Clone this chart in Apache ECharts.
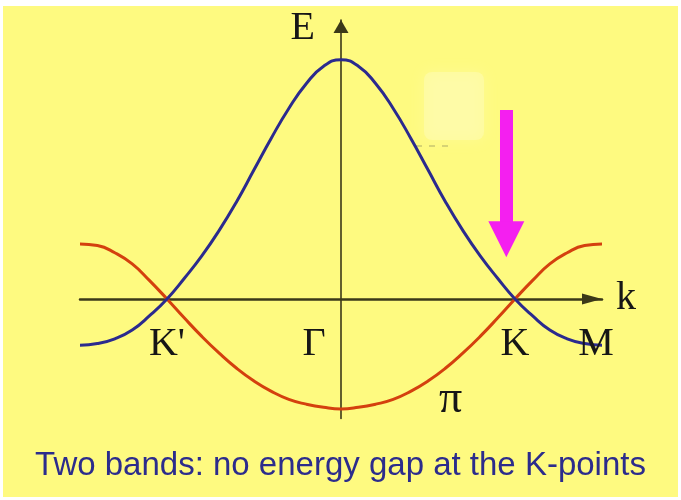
<!DOCTYPE html>
<html>
<head>
<meta charset="utf-8">
<script src="https://cdn.jsdelivr.net/npm/echarts@6/dist/echarts.min.js"></script>
<style>
  html, body { margin: 0; padding: 0; background: #ffffff; }
  #chart { width: 681px; height: 500px; }
</style>
</head>
<body>
<div id="chart"></div>
<script>
// Wave vector along M'–K'–Γ–K–M, in units of |ΓK|
const kPoints = [
  -1.5, -1.4, -1.3, -1.2, -1.1, -1.0, -0.9, -0.8, -0.7, -0.6, -0.5, -0.4, -0.3, -0.2, -0.1,
   0.0,
   0.1,  0.2,  0.3,  0.4,  0.5,  0.6,  0.7,  0.8,  0.9,  1.0,  1.1,  1.2,  1.3,  1.4,  1.5
];
// Upper (antibonding) band energy
const upperBand = [
  -0.58, -0.56, -0.50, -0.39, -0.21, 0.00, 0.26, 0.54, 0.86, 1.22, 1.62, 2.02, 2.39, 2.70, 2.92,
   3.00,
   2.92, 2.70, 2.39, 2.02, 1.62, 1.22, 0.86, 0.54, 0.26, 0.00, -0.21, -0.39, -0.50, -0.56, -0.58
];
// Lower (bonding π) band energy
const lowerBand = [
   0.69, 0.67, 0.58, 0.44, 0.23, 0.00, -0.24, -0.47, -0.68, -0.87, -1.03, -1.16, -1.26, -1.32, -1.36,
  -1.38,
  -1.36, -1.32, -1.26, -1.16, -1.03, -0.87, -0.68, -0.47, -0.24, 0.00, 0.23, 0.44, 0.58, 0.67, 0.69
];
// High-symmetry points marked under the k axis
const symmetryValues = [-1.0, 0.0, 1.0, 1.5];
const symmetryNames = ["K'", 'Γ', 'K', 'M'];
// Pointer to the Dirac point at K (k, E from top to bottom)
const pointerK = 0.95;
const pointerTop = 2.37;
const pointerEnd = 0.75;
// Position of the π band tag
const piTag = [0.63, -1.27];

const toPairs = (xs, ys) => xs.map((x, i) => [x, ys[i]]);

const serif = "'Liberation Serif', 'DejaVu Serif', serif";
const axisColor = '#3b3818';
const letterColor = '#161616';

// horizontal nudges for the point names that sit beside their tick
const nameNudge = { 'Γ': -27, 'M': -6 };

const chart = echarts.init(document.getElementById('chart'), null, { renderer: 'canvas' });

chart.setOption({
  animation: false,
  backgroundColor: '#ffffff',
  graphic: [
    {
      type: 'rect', z: -10, silent: true,
      shape: { x: 3, y: 6, width: 675, height: 491 },
      style: { fill: '#fefa80' }
    },
    {
      type: 'rect', z: -9, silent: true,
      shape: { x: 424, y: 72, width: 60, height: 68, r: 8 },
      style: { fill: 'rgba(255,253,205,0.35)', shadowBlur: 14, shadowColor: 'rgba(255,253,205,0.7)' }
    },
    {
      type: 'line', z: -8, silent: true,
      shape: { x1: 416, y1: 146, x2: 448, y2: 146 },
      style: { stroke: 'rgba(110,110,80,0.55)', lineWidth: 1, lineDash: [6, 7] }
    }
  ],
  title: {
    text: 'Two bands: no energy gap at the K-points',
    left: 'center',
    top: 444,
    textStyle: {
      fontFamily: "'Liberation Sans', Arial, sans-serif",
      fontSize: 33,
      fontWeight: 'normal',
      color: '#2c2c8c'
    }
  },
  grid: { left: 80, right: 79, top: 20, bottom: 81.5 },
  xAxis: {
    type: 'value',
    min: -1.5,
    max: 1.5,
    name: 'k',
    nameLocation: 'end',
    nameGap: 14,
    nameTextStyle: { fontFamily: serif, fontSize: 40, color: letterColor, verticalAlign: 'middle', padding: [0, 0, 4, 0] },
    axisLine: {
      onZero: true,
      symbol: ['none', 'triangle'],
      symbolSize: [11, 20],
      symbolOffset: [0, -10],
      lineStyle: { color: axisColor, width: 2.5 }
    },
    axisTick: { show: false },
    axisLabel: { show: false },
    splitLine: { show: false }
  },
  yAxis: {
    type: 'value',
    min: -1.5,
    max: 3.5,
    name: 'E',
    nameLocation: 'end',
    nameGap: -8,
    nameTextStyle: { fontFamily: serif, fontSize: 40, color: letterColor, align: 'right', verticalAlign: 'middle', padding: [0, 26, 0, 0] },
    axisLine: {
      onZero: true,
      symbol: ['none', 'triangle'],
      symbolSize: [15, 13],
      symbolOffset: [0, -6.5],
      lineStyle: { color: axisColor, width: 1.6 }
    },
    axisTick: { show: false },
    axisLabel: { show: false },
    splitLine: { show: false }
  },
  series: [
    {
      name: 'π*',
      type: 'line',
      data: toPairs(kPoints, upperBand),
      smooth: true,
      showSymbol: false,
      z: 3,
      lineStyle: { color: '#2b2a8e', width: 3 },
      emphasis: { disabled: true },
      markLine: {
        silent: true,
        symbol: ['none', 'triangle'],
        symbolSize: 36,
        label: { show: false },
        emphasis: { disabled: true },
        lineStyle: { color: '#f41ff0', width: 13, type: 'solid' },
        itemStyle: { color: '#f41ff0' },
        data: [[{ coord: [pointerK, pointerTop] }, { coord: [pointerK, pointerEnd] }]]
      }
    },
    {
      name: 'π',
      type: 'line',
      data: toPairs(kPoints, lowerBand),
      smooth: true,
      showSymbol: false,
      z: 2,
      lineStyle: { color: '#d4400e', width: 3 },
      emphasis: { disabled: true },
      markPoint: {
        silent: true,
        symbol: 'circle',
        symbolSize: 1,
        itemStyle: { color: 'rgba(0,0,0,0)' },
        label: {
          show: true,
          position: 'inside',
          formatter: 'π',
          fontFamily: serif,
          fontSize: 46,
          color: letterColor
        },
        data: [{ coord: piTag }]
      }
    },
    {
      name: 'symmetry points',
      type: 'scatter',
      silent: true,
      symbolSize: 0,
      z: 4,
      itemStyle: { opacity: 1, color: 'rgba(0,0,0,0)' },
      data: symmetryValues.map((v, i) => ({
        value: [v, 0],
        name: symmetryNames[i],
        label: { offset: [nameNudge[symmetryNames[i]] || 0, 0] }
      })),
      label: {
        show: true,
        position: 'bottom',
        distance: 26,
        opacity: 1,
        formatter: (p) => p.name,
        fontFamily: serif,
        fontSize: 40,
        color: letterColor
      },
      emphasis: { disabled: true }
    }
  ]
});
</script>
</body>
</html>
